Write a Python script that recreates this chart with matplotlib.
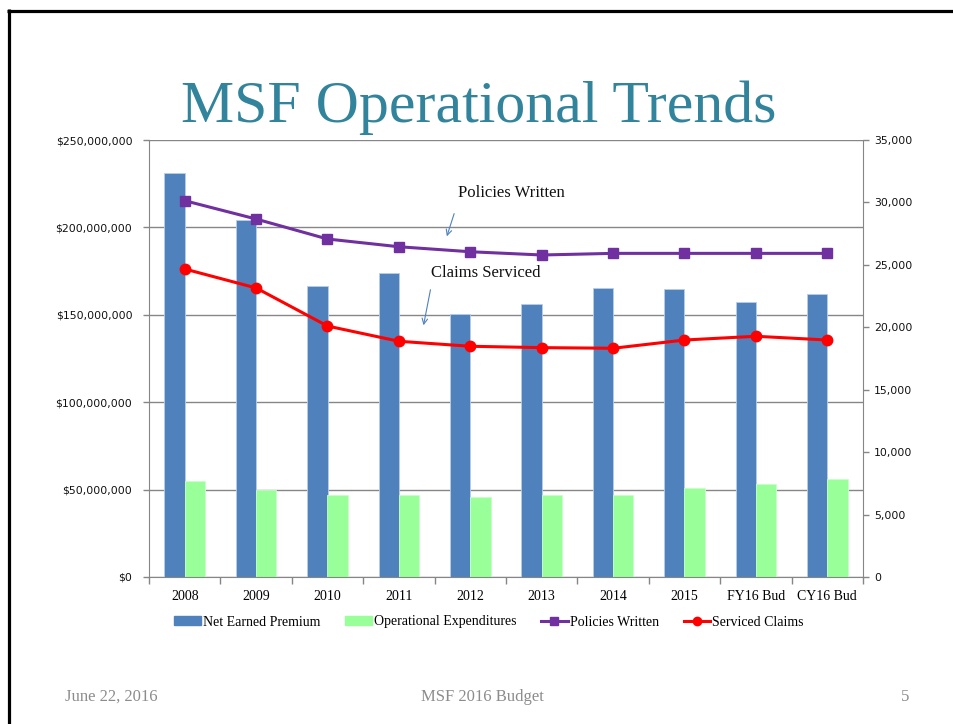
import matplotlib
matplotlib.use("Agg")
import matplotlib.pyplot as plt
import numpy as np
from matplotlib.patches import Patch
from matplotlib.lines import Line2D
from matplotlib.ticker import FuncFormatter, MultipleLocator, FixedLocator

categories = ["2008", "2009", "2010", "2011", "2012", "2013", "2014", "2015", "FY16 Bud", "CY16 Bud"]
net_earned_premium = [231e6, 204e6, 166.3e6, 173.7e6, 150.5e6, 156e6, 165.3e6, 164.6e6, 157.1e6, 162e6]
operational_expenditures = [54.9e6, 50e6, 46.9e6, 46.9e6, 45.8e6, 46.9e6, 46.7e6, 50.9e6, 53.2e6, 55.9e6]
policies_written = [30140, 28670, 27070, 26450, 26050, 25790, 25920, 25920, 25920, 25920]
serviced_claims = [24670, 23150, 20100, 18880, 18480, 18370, 18320, 18980, 19280, 18980]

SERIF = ["Liberation Serif", "DejaVu Serif"]
SANS = ["DejaVu Sans"]
BLUE = "#4F81BD"
GREEN = "#99FF99"
PURPLE = "#7030A0"
RED = "#FF0000"
AXC = "#868686"

W, H = 954, 724
fig = plt.figure(figsize=(W / 100, H / 100), dpi=100)
fig.patch.set_facecolor("white")

ax = fig.add_axes([149 / W, 1 - 577 / H, (863 - 149) / W, (577 - 140) / H])
ax2 = ax.twinx()

x = np.arange(len(categories))
bw = 0.284
ax.bar(x - bw / 2, net_earned_premium, width=bw, color=BLUE, edgecolor="#B9CDE5", linewidth=0.6, zorder=2)
ax.bar(x + bw / 2, operational_expenditures, width=bw, color=GREEN, edgecolor="#C8FFC8", linewidth=0.6, zorder=2)

ax.set_xlim(-0.5, len(categories) - 0.5)
ax.set_ylim(0, 250e6)
ax.yaxis.set_major_locator(MultipleLocator(50e6))
ax.yaxis.set_major_formatter(FuncFormatter(lambda v, p: "${:,.0f}".format(v)))
ax.yaxis.grid(True, color=AXC, linewidth=1.0, zorder=0)
ax.set_axisbelow(True)

ax.set_xticks(x)
ax.set_xticklabels(categories)
ax.xaxis.set_minor_locator(FixedLocator(np.arange(-0.5, len(categories), 1.0)))
ax.tick_params(axis="x", which="major", length=0, pad=9, labelsize=10)
ax.tick_params(axis="x", which="minor", length=5, color=AXC, width=1)
ax.tick_params(axis="y", length=4, color=AXC, width=1, pad=8, labelsize=7.8)
for lab in ax.get_xticklabels():
    lab.set_family(SERIF)
for lab in ax.get_yticklabels():
    lab.set_family(SANS)
    lab.set_color("#111111")

for s in ["top", "right"]:
    ax.spines[s].set_visible(False)
ax.spines["left"].set_color(AXC)
ax.spines["bottom"].set_color(AXC)

ax2.plot(x, policies_written, color=PURPLE, linewidth=2.2, marker="s", markersize=7.5, zorder=3)
ax2.plot(x, serviced_claims, color=RED, linewidth=2.2, marker="o", markersize=7.5, zorder=3)
ax2.set_ylim(0, 35000)
ax2.yaxis.set_major_locator(MultipleLocator(5000))
ax2.yaxis.set_major_formatter(FuncFormatter(lambda v, p: "{:,.0f}".format(v)))
ax2.tick_params(axis="y", length=4, color=AXC, width=1, pad=4, labelsize=7.8)
for lab in ax2.get_yticklabels():
    lab.set_family(SANS)
    lab.set_color("#111111")
for s in ["top", "left", "bottom"]:
    ax2.spines[s].set_visible(False)
ax2.spines["right"].set_color(AXC)

# annotations
ax2.annotate("", xy=(446, H - 239), xytext=(455, H - 211), xycoords="figure pixels",
             textcoords="figure pixels",
             arrowprops=dict(arrowstyle="->", color=BLUE, lw=0.8))
ax2.annotate("", xy=(423, H - 328), xytext=(431, H - 287), xycoords="figure pixels",
             textcoords="figure pixels",
             arrowprops=dict(arrowstyle="->", color=BLUE, lw=0.8))
fig.text(511 / W, 1 - 193 / H, "Policies Written", ha="center", va="center", fontsize=12, family=SERIF, color="#111111")
fig.text(486 / W, 1 - 273 / H, "Claims Serviced", ha="center", va="center", fontsize=12, family=SERIF, color="#111111")

# legend
handles = [
    Patch(facecolor=BLUE, edgecolor=BLUE),
    Patch(facecolor=GREEN, edgecolor=GREEN),
    Line2D([0], [0], color=PURPLE, lw=2.2, marker="s", markersize=6),
    Line2D([0], [0], color=RED, lw=2.2, marker="o", markersize=6),
]
labels = ["Net Earned Premium", "Operational Expenditures", "Policies Written", "Serviced Claims"]
fig.legend(handles, labels, loc="center", bbox_to_anchor=(489 / W, 1 - 622 / H), ncol=4, frameon=False,
           prop={"family": SERIF, "size": 10}, handlelength=1.9, handleheight=0.6, handletextpad=0.15,
           columnspacing=1.8)

# title
fig.text(479 / W, 1 - 122 / H, "MSF Operational Trends", ha="center", va="baseline", fontsize=43,
         family=SERIF, color="#31849B")

# footer
fig.text(65 / W, 1 - 697 / H, "June 22, 2016", ha="left", va="center", fontsize=12, family=SERIF, color="#8C8C8C")
fig.text(482 / W, 1 - 697 / H, "MSF 2016 Budget", ha="center", va="center", fontsize=12, family=SERIF, color="#8C8C8C")
fig.text(905 / W, 1 - 697 / H, "5", ha="center", va="center", fontsize=12, family=SERIF, color="#8C8C8C")

# slide border (top and left)
fig.add_artist(Line2D([7.5 / W, 1.0], [1 - 10.5 / H, 1 - 10.5 / H], transform=fig.transFigure, color="black",
                      lw=2.3, solid_capstyle="butt"))
fig.add_artist(Line2D([8.8 / W, 8.8 / W], [1 - 9.3 / H, 0], transform=fig.transFigure, color="black",
                      lw=2.3, solid_capstyle="butt"))

fig.savefig("out.png", dpi=100)
